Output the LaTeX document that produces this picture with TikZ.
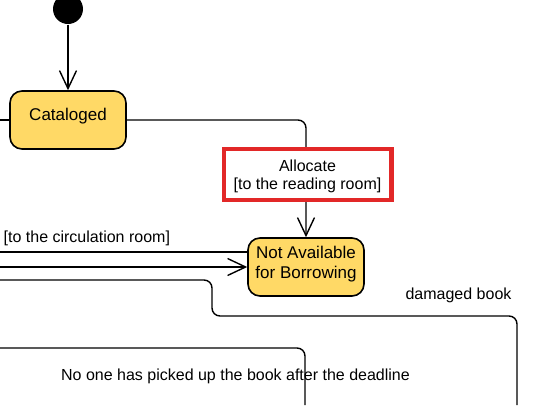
\documentclass[tikz,border=0pt]{standalone}
\usepackage{fontspec}
\setmainfont{Liberation Sans}
\usepackage{tikz}
\usetikzlibrary{arrows.meta}
\definecolor{stateyellow}{HTML}{FFD966}
\definecolor{markred}{HTML}{E22828}

\begin{document}
\begin{tikzpicture}[x=1pt, y=-1pt, line width=1.4pt, every node/.style={font=\fontsize{16}{18.5}\selectfont}, >={Straight Barb[length=18pt,width=17pt]},
	state/.style={draw=black, fill=stateyellow, rounded corners=12pt, line width=1.6pt, minimum width=116pt, minimum height=58pt, inner sep=0pt, font=\fontsize{17}{19.3}\selectfont},
	guard/.style={draw=markred, fill=white, sharp corners, line width=4.5pt, minimum width=167.5pt, minimum height=51pt, inner sep=0pt, align=center}]
	\useasboundingbox (0,0) rectangle (536,405);
	\node[circle, fill=black, minimum size=30pt, inner sep=0pt] (start) at (68,9) {};
	\node[state, text depth=11pt] (cataloged) at (68,120) {Cataloged};
	\node[state, align=center, text depth=9.1pt] (notavail) at (306,267) {Not Available\\for Borrowing};
	\coordinate (fromleft) at (0,120);
	\coordinate (circin) at (0,252);
	\coordinate (retin) at (0,267);
	\coordinate (damagedin) at (0,280);
	\coordinate (damagedout) at (517,405);
	\coordinate (expiredin) at (0,348);
	\coordinate (expiredout) at (305,405);
	\draw[->] (start) -- (cataloged);
	\draw (fromleft) -- (cataloged.west);
	\draw[->, rounded corners=8pt] (cataloged.east) -| node[guard, pos=0.733, xshift=1.5pt, text depth=0pt] (allocate) {Allocate\\{[to the reading room]}} (notavail.north);
	\draw (circin) -- (notavail.west |- circin);
	\draw[->] (retin) -- (notavail.west);
	\draw[rounded corners=8pt] (damagedin) -| (212,316) -| (damagedout);
	\draw[rounded corners=8pt] (expiredin) -| (expiredout);
	\node[anchor=west, inner sep=0pt] (circlabel) at (3,238) {[to the circulation room]};
	\node (damaged) at (458.5,295) {damaged book};
	\node (expired) at (235.5,376) {No one has picked up the book after the deadline};
\end{tikzpicture}
\end{document}
